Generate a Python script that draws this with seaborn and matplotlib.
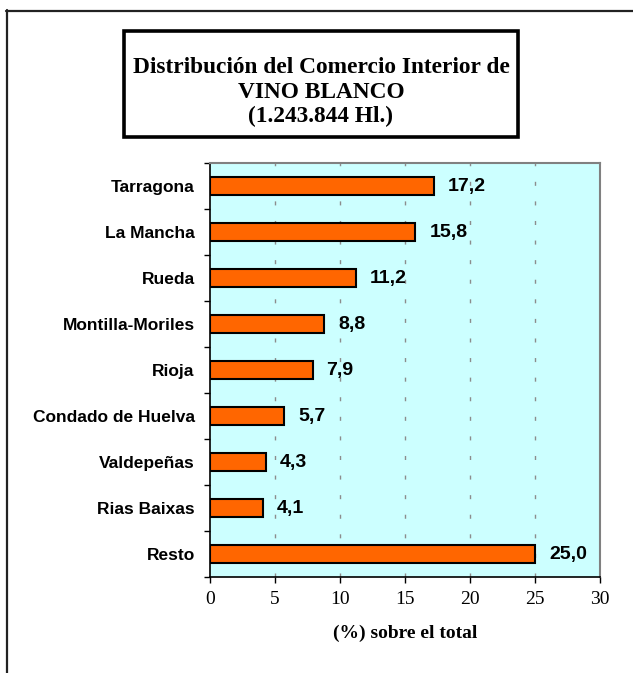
import matplotlib
matplotlib.use("Agg")
import matplotlib.pyplot as plt
from matplotlib.patches import Rectangle
from matplotlib.lines import Line2D
import seaborn as sns
import pandas as pd
import numpy as np

regiones = ["Tarragona", "La Mancha", "Rueda", "Montilla-Moriles", "Rioja",
            "Condado de Huelva", "Valdepeñas", "Rias Baixas", "Resto"]
valores = [17.2, 15.8, 11.2, 8.8, 7.9, 5.7, 4.3, 4.1, 25.0]
xticks = [0, 5, 10, 15, 20, 25, 30]
titulo = ["Distribución del Comercio Interior de", "VINO BLANCO", "(1.243.844 Hl.)"]
xlabel = "(%) sobre el total"

df = pd.DataFrame({"region": regiones, "valor": valores})

sns.set_style("white")
plt.rcParams["font.family"] = ["Liberation Sans", "DejaVu Sans"]
plt.rcParams["text.color"] = "black"
plt.rcParams["axes.labelcolor"] = "black"
plt.rcParams["xtick.color"] = "black"
plt.rcParams["ytick.color"] = "black"

W, H = 633, 673
fig = plt.figure(figsize=(W / 100, H / 100), dpi=100)
fig.patch.set_facecolor("white")

ax = fig.add_axes([210 / W, 1 - 577 / H, 390 / W, 414 / H])
ax.set_facecolor("#CCFFFF")
ax.set_axisbelow(True)

sns.barplot(data=df, x="valor", y="region", orient="h", color="#FF6600",
            saturation=1, edgecolor="black", linewidth=1.5, width=0.4, ax=ax,
            zorder=3)

ax.set_xlim(0, 30)
ax.set_ylim(8.5, -0.5)
ax.set_xticks(xticks)
ax.set_xticklabels([str(t) for t in xticks], fontfamily="Liberation Serif", fontsize=14)
ax.set_yticks(range(len(regiones)))
ax.set_yticklabels(regiones, fontweight="bold", fontsize=12.5)
ax.set_yticks(np.arange(-0.5, len(regiones) + 0.5, 1), minor=True)
ax.tick_params(axis="y", which="major", length=0, pad=11, labelcolor="black")
ax.tick_params(axis="y", which="minor", length=4, width=1, color="black", direction="out", left=True)
ax.tick_params(axis="x", which="major", length=4, width=1, color="black", direction="out", pad=6,
               bottom=True, labelcolor="black")

for xv in xticks[1:-1]:
    ax.axvline(xv, color="#8c8c8c", lw=1, linestyle=(0, (2.9, 11.2)), zorder=1)

ax.set_xlabel(xlabel, fontfamily="Liberation Serif", fontweight="bold", fontsize=14,
              labelpad=12, color="black")
ax.set_ylabel("")

for s in ["left", "bottom"]:
    ax.spines[s].set_color("black")
    ax.spines[s].set_linewidth(1.2)
for s in ["top", "right"]:
    ax.spines[s].set_color("#808080")
    ax.spines[s].set_linewidth(1.5)
    ax.spines[s].set_visible(True)

for i, v in enumerate(valores):
    ax.annotate(f"{v:.1f}".replace(".", ","), xy=(v, i), xytext=(10, 0),
                textcoords="offset points", va="center", ha="left",
                fontweight="bold", fontsize=14, color="black", zorder=4)

# Title box
fig.add_artist(Rectangle((124 / W, 1 - 137 / H), 394 / W, 106 / H,
                         transform=fig.transFigure, facecolor="white",
                         edgecolor="black", linewidth=2.6))
for line, yb in zip(titulo, [73, 97.5, 122]):
    fig.text(321 / W, 1 - yb / H, line, ha="center", va="baseline", color="black",
             fontfamily="Liberation Serif", fontweight="bold", fontsize=16.8)

# Outer frame (top and left)
fig.add_artist(Line2D([6.5 / W, 6.5 / W], [0, 1 - 10 / H], transform=fig.transFigure,
                      color="#222222", lw=1.6))
fig.add_artist(Line2D([6 / W, 1], [1 - 10.5 / H, 1 - 10.5 / H], transform=fig.transFigure,
                      color="#222222", lw=1.6))

fig.savefig("out.png", dpi=100, facecolor="white")
